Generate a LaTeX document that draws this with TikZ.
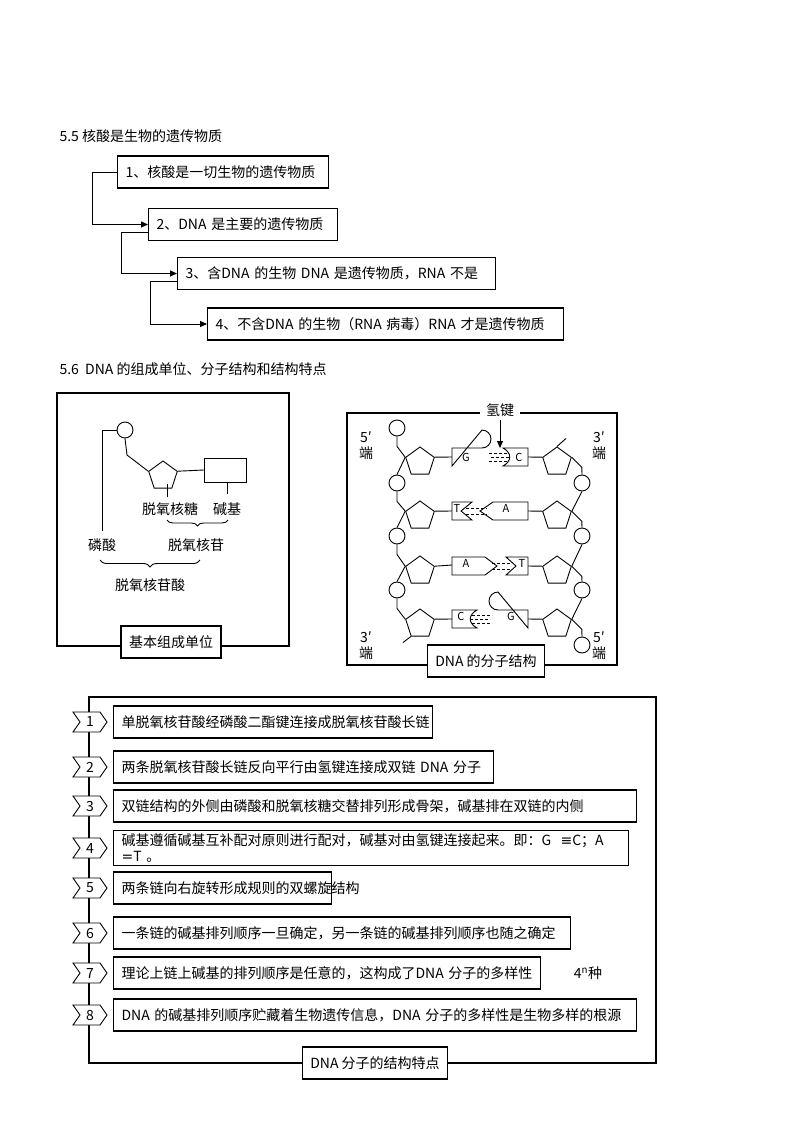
\documentclass[tikz,border=0pt]{standalone}
\usepackage{fontspec}
\setmainfont{Noto Sans CJK SC}
\newfontfamily\dv{DejaVu Sans}
\usetikzlibrary{arrows.meta,shapes.geometric,decorations.pathreplacing}
\begin{document}
\begin{tikzpicture}[x=1pt,y=-1pt,
  every node/.style={font=\fontsize{14}{16}\selectfont},
  tb/.style={draw,line width=1.1pt,anchor=west,minimum height=32pt,inner xsep=8pt,align=left},
  lab/.style={draw,line width=1.1pt,fill=white,minimum height=32pt,inner xsep=8pt},
  frame/.style={line width=1.8pt},
  arr/.style={line width=0.9pt,-{Triangle[length=7pt,width=6pt]}},
  thin/.style={line width=0.9pt},
  pent/.style={draw,line width=0.9pt,regular polygon,regular polygon sides=5,minimum size=30pt,inner sep=0pt},
  circ/.style={draw,line width=0.9pt,circle,minimum size=16pt,inner sep=0pt},
  chev/.style={line width=0.9pt,fill=white},
  bs/.style={line width=0.9pt,fill=white},
  hb/.style={line width=0.7pt,densely dashed}]
\useasboundingbox (0,0) rectangle (800,1132);
% 5.5
\node[anchor=west] (t1) at (56,136) {5.5 核酸是生物的遗传物质};
\node[tb,text width=195pt] (b1) at (117,172) {1、核酸是一切生物的遗传物质};
\node[tb,text width=173pt] (b2) at (148,224.5) {2、DNA 是主要的遗传物质};
\node[tb,text width=302pt] (b3) at (177,273.5) {3、含DNA 的生物 DNA 是遗传物质，RNA 不是};
\node[tb,text width=340pt] (b4) at (207,324) {4、不含DNA 的生物（RNA 病毒）RNA 才是遗传物质};
\draw[arr] (b1.west) -- ++(-25,0) |- (b2.west);
\draw[arr] ([yshift=-8]b2.west) -- ++(-27,0) |- (b3.west);
\draw[arr] ([yshift=-8]b3.west) -- ++(-27,0) |- (b4.west);
% 5.6
\node[anchor=west] (t2) at (56,369) {5.6\ \ DNA 的组成单位、分子结构和结构特点};
% left box
\draw[frame] (57,393) rectangle (289,646);
\node[lab] (lb) at (171,642) {基本组成单位};
\node[circ] (pc) at (125,430) {};
\node[pent] (ps) at (163,476) {};
\draw[thin] (204,458) rectangle (246,482);
\coordinate (rb) at (204,470);
\draw[thin] (pc.west) -- (102,430) -- (102,531);
\draw[thin] (pc.south) -- (127,455) -- (ps.corner 2);
\draw[thin] (ps.corner 5) -- (rb);
\draw[thin] (227,482) -- (227,494);
\draw[thin] (167,484) -- (167,497);
\node (n1) at (170,509) {脱氧核糖};
\node (n2) at (227,509) {碱基};
\draw[thin,decorate,decoration={brace,mirror,amplitude=6pt}] (167,520) -- (228,520);
\node (n3) at (196,545) {脱氧核苷};
\node (n4) at (102,545) {磷酸};
\draw[thin,decorate,decoration={brace,mirror,amplitude=7pt}] (100,560) -- (200,560);
\node (n5) at (150,585) {脱氧核苷酸};
% right box
\draw[frame] (347,413) rectangle (617,665);
\node[fill=white,inner xsep=6pt] (hj) at (500,410) {氢键};
\node[lab] (rl) at (486,661) {DNA 的分子结构};
\draw[arr] (hj.south) -- (500,448);
\node[align=center] (e1) at (366,446) {5′\\端};
\node[align=center] (e2) at (599,446) {3′\\端};
\node[align=center] (e3) at (366,646) {3′\\端};
\node[align=center] (e4) at (599,646) {5′\\端};
\foreach \i/\r in {1/457,2/511,3/566,4/619}{
  \node[pent] (pl\i) at (420,\r+5) {};
  \node[pent] (pr\i) at (557,\r+5) {};
}
\foreach \i/\c in {1/428,2/483,3/536,4/590}{\node[circ] (cl\i) at (397,\c) {};}
\foreach \i/\c in {1/483,2/536,3/590,4/645}{\node[circ] (cr\i) at (582,\c) {};}
\foreach \i in {1,2,3,4}{
  \draw[thin] (cl\i.south) -- ++(0,10) -- (pl\i.corner 2);
  \draw[thin] (pr\i.corner 5) -- ++(10,10) -- (cr\i.north);
  \draw[thin] (pl\i.corner 5) -- (452,{457+(\i-1)*54});
}
\foreach \i/\j in {1/2,2/3,3/4}{
  \draw[thin] (pl\i.corner 2) -- (cl\j.north);
  \draw[thin] (cr\i.south) -- (pr\j.corner 5);
}
\draw[thin] (pl4.corner 3) -- ++(-8,6);
\draw[thin] (pr1.corner 1) -- ++(9,-8);
% row 1 G-C
\def\y{457}
\draw[thin] (pr1.corner 2) -- (528,\y);
\draw[bs] (452,\y-9) -- (482,\y-9) arc[start angle=90,end angle=-90,radius=9] -- (452,\y+9) -- cycle;
\draw[bs] (528,\y-9) -- (503,\y-9) .. controls (512,\y-4) and (512,\y+4) .. (503,\y+9) -- (528,\y+9) -- cycle;
\draw[hb] (489,\y-4) -- (509,\y-4) (491,\y) -- (510,\y) (489,\y+4) -- (509,\y+4);
\node[font=\fontsize{11}{12}\selectfont] (g1) at (466,\y) {G};
\node[font=\fontsize{11}{12}\selectfont] (c1) at (519,\y) {C};
% row 2 T-A
\def\y{511}
\draw[thin] (pr2.corner 2) -- (528,\y);
\draw[bs] (452,\y-9) -- (472,\y-9) -- (461,\y) -- (472,\y+9) -- (452,\y+9) -- cycle;
\draw[bs] (528,\y-9) -- (493,\y-9) -- (480,\y) -- (493,\y+9) -- (528,\y+9) -- cycle;
\draw[hb] (466,\y-3) -- (487,\y-3) (466,\y+3) -- (487,\y+3);
\node[font=\fontsize{11}{12}\selectfont] (t2n) at (457,\y-3) {T};
\node[font=\fontsize{11}{12}\selectfont] (a2) at (506,\y-3) {A};
% row 3 A-T
\def\y{566}
\draw[thin] (pr3.corner 2) -- (528,\y);
\draw[bs] (452,\y-9) -- (485,\y-9) -- (497,\y) -- (485,\y+9) -- (452,\y+9) -- cycle;
\draw[bs] (528,\y-9) -- (506,\y-9) -- (516,\y) -- (506,\y+9) -- (528,\y+9) -- cycle;
\draw[hb] (492,\y-3) -- (512,\y-3) (492,\y+3) -- (512,\y+3);
\node[font=\fontsize{11}{12}\selectfont] (a3) at (466,\y-3) {A};
\node[font=\fontsize{11}{12}\selectfont] (t3) at (522,\y-3) {T};
% row 4 C-G
\def\y{619}
\draw[thin] (pr4.corner 2) -- (528,\y);
\draw[bs] (452,\y-9) -- (477,\y-9) .. controls (468,\y-4) and (468,\y+4) .. (477,\y+9) -- (452,\y+9) -- cycle;
\draw[bs] (528,\y-9) -- (498,\y-9) arc[start angle=90,end angle=270,radius=9] -- (528,\y+9) -- cycle;
\draw[hb] (472,\y-4) -- (492,\y-4) (470,\y) -- (490,\y) (472,\y+4) -- (492,\y+4);
\node[font=\fontsize{11}{12}\selectfont] (c4) at (461,\y-3) {C};
\node[font=\fontsize{11}{12}\selectfont] (g4) at (511,\y-3) {G};
% bottom
\draw[frame] (89,697) rectangle (656,1063);
\node[lab] (bl) at (375,1063) {DNA 分子的结构特点};
\foreach \k/\yy/\w/\t in {
 1/722/319/单脱氧核苷酸经磷酸二酯键连接成脱氧核苷酸长链,
 2/767/380/两条脱氧核苷酸长链反向平行由氢键连接成双链 DNA 分子,
 3/806/523/双链结构的外侧由磷酸和脱氧核糖交替排列形成骨架，碱基排在双链的内侧,
 5/888/218/两条链向右旋转形成规则的双螺旋结构,
 6/933/457/一条链的碱基排列顺序一旦确定，另一条链的碱基排列顺序也随之确定,
 7/973/427/理论上链上碱基的排列顺序是任意的，这构成了DNA 分子的多样性,
 8/1015/523/DNA 的碱基排列顺序贮藏着生物遗传信息，DNA 分子的多样性是生物多样的根源}{
  \draw[chev] (73,\yy-10) -- (100,\yy-10) -- (107,\yy) -- (100,\yy+10) -- (73,\yy+10) -- (80,\yy) -- cycle;
  \node (k\k) at (90,\yy) {\k};
  \pgfmathsetmacro\tw{\w-16}
  \node[tb,text width=\tw pt] (i\k) at (113,\yy) {\t};
}
\def\yy{848}
\draw[chev] (73,\yy-10) -- (100,\yy-10) -- (107,\yy) -- (100,\yy+10) -- (73,\yy+10) -- (80,\yy) -- cycle;
\node (k4) at (90,\yy) {4};
\node[tb,text width=499pt] (i4) at (113,\yy) {碱基遵循碱基互补配对原则进行配对，碱基对由氢键连接起来。即：G\ \ {\dv ≡}C；A {\dv =}T 。};
\node (n7) at (588,973) {4\textsuperscript{n}种};
\end{tikzpicture}
\end{document}
